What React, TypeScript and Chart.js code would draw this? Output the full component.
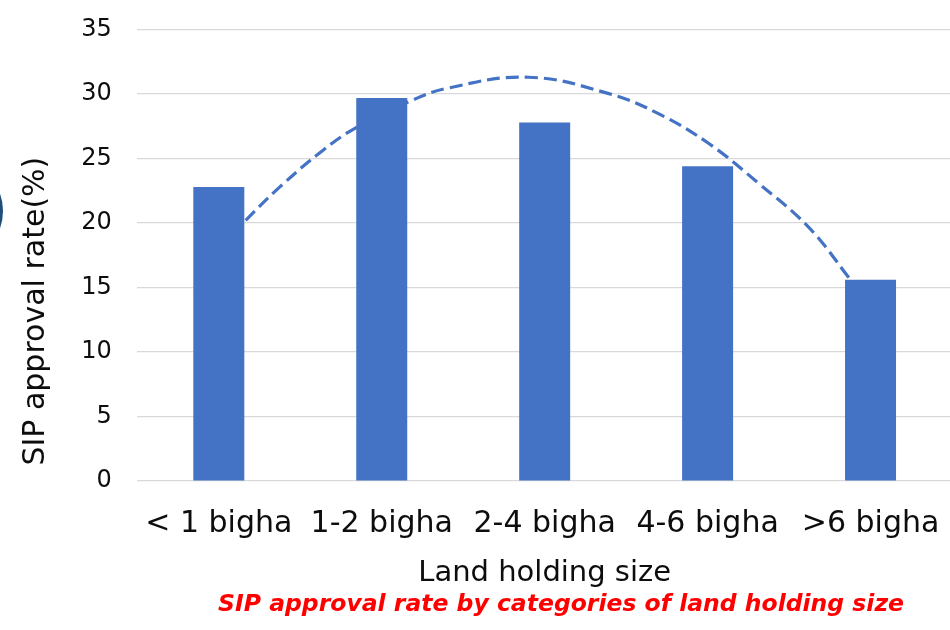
import React, { useEffect, useRef } from "react";
import { Chart, registerables } from "chart.js";

Chart.register(...registerables);

const categories = ["< 1 bigha", "1-2 bigha", "2-4 bigha", "4-6 bigha", ">6 bigha"];
const approvalRates = [22.8, 29.7, 27.8, 24.4, 15.6];
// trendline (as drawn in the picture), x = category index position
const trendX = [0, 0.148, 0.375, 0.64, 0.85, 1.157, 1.403, 1.9, 2.388, 2.695, 3.003, 3.311, 3.618, 3.865, 4];
const trendY = [18.1, 20.0, 22.8, 25.65, 27.45, 29.35, 30.45, 31.3, 30.05, 28.5, 26.2, 23.1, 19.7, 15.8, 13.5];
const yTicks = [0, 5, 10, 15, 20, 25, 30, 35];

const FONT = "'DejaVu Sans', sans-serif";
const BLUE = "#4472C4";

export default function App() {
  const ref = useRef<HTMLCanvasElement | null>(null);

  useEffect(() => {
    if (!ref.current) return;
    const chart = new Chart(ref.current, {
      type: "bar",
      data: {
        labels: categories,
        datasets: [
          {
            type: "bar",
            label: "SIP approval rate",
            data: approvalRates,
            backgroundColor: BLUE,
            categoryPercentage: 1,
            barPercentage: 0.313,
            grouped: false,
            order: 0,
            xAxisID: "x",
            yAxisID: "y",
          } as any,
          {
            type: "line",
            label: "Trend",
            data: trendX.map((x, i) => ({ x, y: trendY[i] })),
            borderColor: BLUE,
            borderWidth: 3.2,
            borderDash: [13, 6],
            pointRadius: 0,
            tension: 0.4,
            fill: false,
            order: 1,
            xAxisID: "x2",
            yAxisID: "y",
          } as any,
        ],
      },
      options: {
        responsive: false,
        animation: false,
        devicePixelRatio: 1,
        layout: { padding: { top: 29.5, right: 0, left: 0, bottom: 0 } },
        plugins: {
          legend: { display: false },
          tooltip: { enabled: false },
          title: {
            display: true,
            position: "bottom",
            fullSize: false,
            text: "    SIP approval rate by categories of land holding size",
            color: "#ff0000",
            font: { family: FONT, size: 23.5, weight: "bold", style: "italic" },
            padding: { top: 0, bottom: 10.6 },
          },
        },
        scales: {
          x: {
            type: "category",
            offset: true,
            grid: { display: false, drawTicks: false },
            border: { display: false },
            ticks: {
              color: "#0d0d0d",
              font: { family: FONT, size: 30 },
              padding: 25.5,
              maxRotation: 0,
              minRotation: 0,
              autoSkip: false,
            },
            title: {
              display: true,
              text: "Land holding size",
              color: "#0d0d0d",
              font: { family: FONT, size: 29 },
              padding: { top: 0, bottom: 0.7 },
            },
            afterFit: (s: any) => {
              s.height = 110.1;
              s.paddingLeft = 0;
              s.paddingRight = 0;
            },
          },
          x2: {
            type: "linear",
            display: false,
            min: -0.5,
            max: 4.5,
            offset: false,
          },
          y: {
            type: "linear",
            min: 0,
            max: 35,
            afterBuildTicks: (s: any) => {
              s.ticks = yTicks.map((v) => ({ value: v }));
            },
            grid: { color: "#d9d9d9", lineWidth: 1.3, drawTicks: false },
            border: { display: false },
            ticks: {
              color: "#0d0d0d",
              font: { family: FONT, size: 24 },
              padding: 25.6,
            },
            title: {
              display: true,
              text: " \u2009SIP approval rate(%)",
              align: "start",
              color: "#0d0d0d",
              font: { family: FONT, size: 30 },
              padding: { top: 17.8, bottom: 0 },
            },
            afterFit: (s: any) => {
              s.width = 137.35;
              s.paddingTop = 0;
              s.paddingBottom = 0;
            },
          },
        },
      },
    });
    return () => chart.destroy();
  }, []);

  return (
    <div
      style={{
        position: "fixed",
        left: 0,
        top: 0,
        width: 950,
        height: 630,
        overflow: "hidden",
        background: "#fff",
      }}
    >
      <div
        style={{
          position: "absolute",
          left: -101,
          top: 159,
          width: 104,
          height: 104,
          borderRadius: "50%",
          background: "#1f4e79",
        }}
      />
      <canvas
        ref={ref}
        width={952}
        height={630}
        style={{ position: "absolute", left: 0, top: 0, width: 952, height: 630 }}
      />
    </div>
  );
}
